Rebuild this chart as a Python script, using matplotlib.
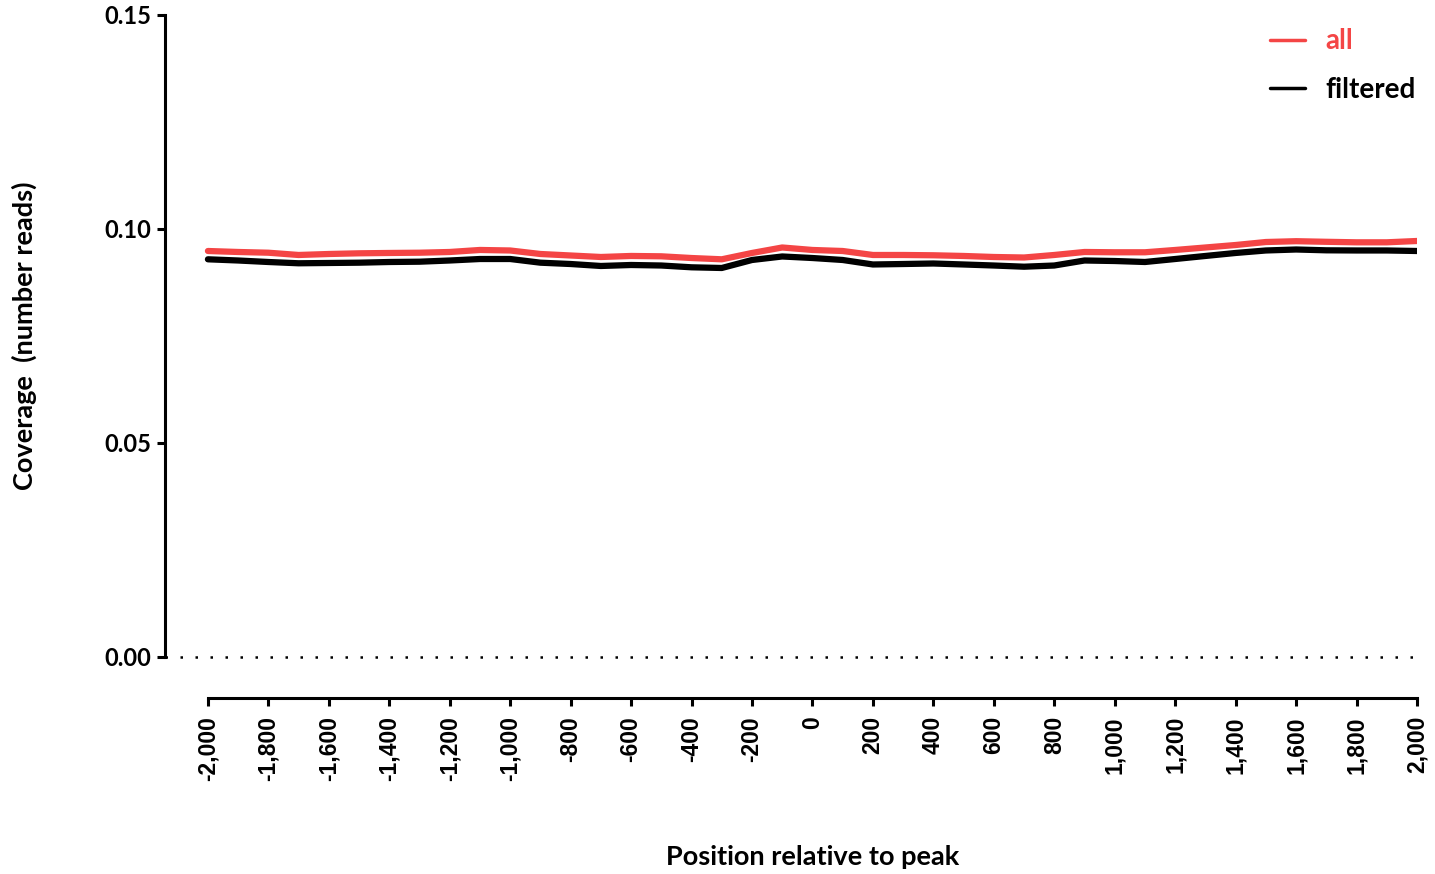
import numpy as np
import matplotlib.pyplot as plt

# positions relative to peak (bp) and coverage
position = np.arange(-2000, 2001, 100)

cov_all = [0.09486, 0.09463, 0.09446, 0.09393, 0.09416, 0.09432, 0.09440, 0.09446,
           0.09463, 0.09510, 0.09498, 0.09416, 0.09381, 0.09346, 0.09370, 0.09362,
           0.09322, 0.09292, 0.09440, 0.09568, 0.09510, 0.09486, 0.09393, 0.09393,
           0.09386, 0.09370, 0.09346, 0.09334, 0.09393, 0.09463, 0.09456, 0.09456,
           0.09510, 0.09568, 0.09626, 0.09696, 0.09715, 0.09701, 0.09689, 0.09689,
           0.09720]

cov_filtered = [0.09292, 0.09264, 0.09229, 0.09199, 0.09206, 0.09213, 0.09229, 0.09236,
                0.09264, 0.09299, 0.09299, 0.09213, 0.09182, 0.09136, 0.09159, 0.09147,
                0.09105, 0.09089, 0.09276, 0.09358, 0.09322, 0.09276, 0.09171, 0.09182,
                0.09194, 0.09171, 0.09147, 0.09119, 0.09147, 0.09264, 0.09252, 0.09229,
                0.09299, 0.09370, 0.09440, 0.09498, 0.09521, 0.09502, 0.09498, 0.09498,
                0.09486]

xticks = np.arange(-2000, 2001, 200)
yticks = [0.00, 0.05, 0.10, 0.15]

red = '#f44545'
calibri_like = 'Lato'
arial_like = 'Liberation Sans'

fig = plt.figure(figsize=(14.35, 8.74), dpi=100)
ax = fig.add_axes([165 / 1435, (874 - 657) / 874, (1417 - 165) / 1435, 642 / 874])

ax.plot(position, cov_all, color=red, lw=4.5, label='all', solid_capstyle='round')
ax.plot(position, cov_filtered, color='black', lw=4.5, label='filtered', solid_capstyle='round')
ax.axhline(0, color='black', ls=(0, (1, 5)), lw=1.8, clip_on=False)

ax.set_xlim(-2142, 2000)
ax.set_ylim(0, 0.15)

for s in ['top', 'right']:
    ax.spines[s].set_visible(False)
ax.spines['left'].set_linewidth(2.2)
ax.spines['bottom'].set_linewidth(2.2)
ax.spines['bottom'].set_position(('outward', 29.5))
ax.spines['bottom'].set_bounds(-2000, 2000)

ax.set_yticks(yticks)
ax.set_yticklabels(['{:.2f}'.format(v) for v in yticks])
ax.set_xticks(xticks)
ax.set_xticklabels(['{:,}'.format(v) for v in xticks], rotation=90)
ax.tick_params(axis='both', direction='out', length=6, width=2.2, pad=4)
ax.tick_params(axis='x', pad=7)
for lab in ax.get_yticklabels():
    lab.set_fontfamily(calibri_like)
    lab.set_fontweight('bold')
    lab.set_fontsize(17)
for lab in ax.get_xticklabels():
    lab.set_fontfamily(arial_like)
    lab.set_fontweight('bold')
    lab.set_fontsize(16.5)

ax.set_xlabel('Position relative to peak', fontfamily=calibri_like,
              fontweight='bold', fontsize=19.5)
ax.xaxis.set_label_coords((813 - 165) / 1252, (657 - 845) / 642)
ax.set_ylabel('Coverage  (number reads)', fontfamily=calibri_like,
              fontweight='bold', fontsize=19.5, labelpad=48)

leg = ax.legend(loc='upper right', bbox_to_anchor=(1.019, 1.018), frameon=False,
                labelcolor='linecolor', handlelength=1.25, handletextpad=0.75,
                labelspacing=0.8, prop={'family': calibri_like, 'weight': 'bold', 'size': 20})
for h in leg.get_lines():
    h.set_linewidth(2.5)

fig.savefig('out.png', dpi=100)
